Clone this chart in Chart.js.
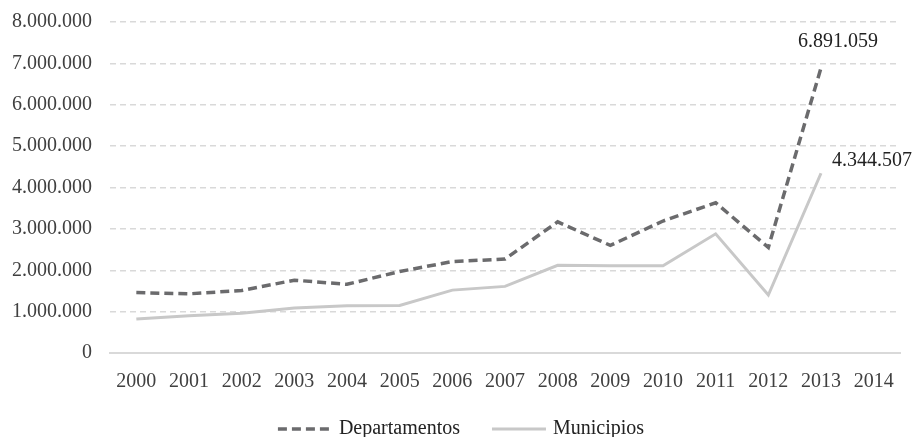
<!DOCTYPE html>
<html>
<head>
<meta charset="utf-8">
<script src="https://cdn.jsdelivr.net/npm/chart.js@4/dist/chart.umd.min.js"></script>
<style>
  html, body { margin: 0; padding: 0; background: #fff; }
  #wrap { width: 914px; height: 437px; }
</style>
</head>
<body>
<div id="wrap"><canvas id="lineChart"></canvas></div>
<script>
// data
const years = ['2000', '2001', '2002', '2003', '2004', '2005', '2006', '2007',
               '2008', '2009', '2010', '2011', '2012', '2013', '2014'];
const departamentos = [1460000, 1430000, 1510000, 1760000, 1660000, 1970000, 2210000, 2270000,
                       3170000, 2600000, 3190000, 3630000, 2550000, 6891059, null];
const municipios = [820000, 900000, 960000, 1090000, 1140000, 1150000, 1520000, 1610000,
                    2120000, 2110000, 2110000, 2880000, 1400000, 4344507, null];
const yTicks = [0, 1000000, 2000000, 3000000, 4000000, 5000000, 6000000, 7000000, 8000000];

const fontFamily = '"Liberation Serif", "DejaVu Serif", serif';
const textColor = '#404040';

function fmt(v) {
    return String(Math.round(v)).replace(/\B(?=(\d{3})+(?!\d))/g, '.');
}

// labels on the last point of each series
const endLabels = {
    id: 'endLabels',
    afterDatasetsDraw(chart) {
        const ctx = chart.ctx;
        ctx.save();
        ctx.font = '20px ' + fontFamily;
        ctx.fillStyle = '#222';
        ctx.textBaseline = 'middle';

        const d = chart.getDatasetMeta(0).data[13];
        ctx.textAlign = 'center';
        ctx.fillText(fmt(departamentos[13]), d.x + 17, d.y - 26);

        const m = chart.getDatasetMeta(1).data[13];
        ctx.textAlign = 'left';
        ctx.fillText(fmt(municipios[13]), m.x + 11, m.y - 12);
        ctx.restore();
    }
};

// legend row at the bottom, drawn by hand to get the spacing right
const bottomLegend = {
    id: 'bottomLegend',
    afterDraw(chart) {
        const ctx = chart.ctx;
        const sample = 54, gapText = 7, gapItem = 32;
        ctx.save();
        ctx.font = '20px ' + fontFamily;
        const sets = chart.data.datasets;
        const widths = sets.map(ds => ctx.measureText(ds.label).width);
        let total = 0;
        widths.forEach((w, i) => { total += sample + gapText + w + (i ? gapItem : 0); });
        let x = chart.width / 2 + 4 - total / 2;
        const y = chart.height - 8;
        sets.forEach((ds, i) => {
            ctx.beginPath();
            ctx.setLineDash(ds.borderDash || []);
            ctx.lineWidth = ds.borderWidth;
            ctx.strokeStyle = ds.borderColor;
            ctx.moveTo(x, y);
            ctx.lineTo(x + sample, y);
            ctx.stroke();
            ctx.setLineDash([]);
            ctx.fillStyle = '#222';
            ctx.textBaseline = 'middle';
            ctx.textAlign = 'left';
            ctx.fillText(ds.label, x + sample + gapText, y);
            x += sample + gapText + widths[i] + gapItem;
        });
        ctx.restore();
    }
};

new Chart(document.getElementById('lineChart'), {
    type: 'line',
    data: {
        labels: years,
        datasets: [{
            label: 'Departamentos',
            data: departamentos,
            borderColor: '#6b6b6d',
            backgroundColor: '#6b6b6d',
            borderWidth: 3.5,
            borderDash: [9, 5],
            pointRadius: 0,
            tension: 0
        }, {
            label: 'Municipios',
            data: municipios,
            borderColor: '#c8c8c8',
            backgroundColor: '#c8c8c8',
            borderWidth: 3,
            pointRadius: 0,
            tension: 0
        }]
    },
    options: {
        responsive: true,
        maintainAspectRatio: false,
        animation: false,
        layout: { padding: { left: 0, right: 14, top: 22, bottom: 34 } },
        plugins: {
            legend: { display: false },
            tooltip: { enabled: false }
        },
        scales: {
            x: {
                offset: true,
                grid: { display: false },
                border: { display: true, color: '#d9d9d9', width: 2 },
                ticks: {
                    color: textColor,
                    font: { family: fontFamily, size: 20 },
                    maxRotation: 0,
                    autoSkip: false,
                    padding: 9
                }
            },
            y: {
                min: 0,
                max: 8000000,
                afterBuildTicks: (scale) => {
                    scale.ticks = yTicks.map(v => ({ value: v }));
                },
                afterFit: (scale) => {
                    scale.width = 110;
                    scale.paddingTop = 0;
                    scale.paddingBottom = 0;
                },
                grid: {
                    color: (c) => c.tick && c.tick.value === 0 ? 'rgba(0,0,0,0)' : '#d9d9d9',
                    lineWidth: 1.5,
                    drawTicks: false
                },
                border: { display: false, dash: [6, 4] },
                ticks: {
                    color: textColor,
                    font: { family: fontFamily, size: 20, lineHeight: 1 },
                    padding: 18,
                    callback: (v) => fmt(v)
                }
            }
        }
    },
    plugins: [endLabels, bottomLegend]
});
</script>
</body>
</html>
